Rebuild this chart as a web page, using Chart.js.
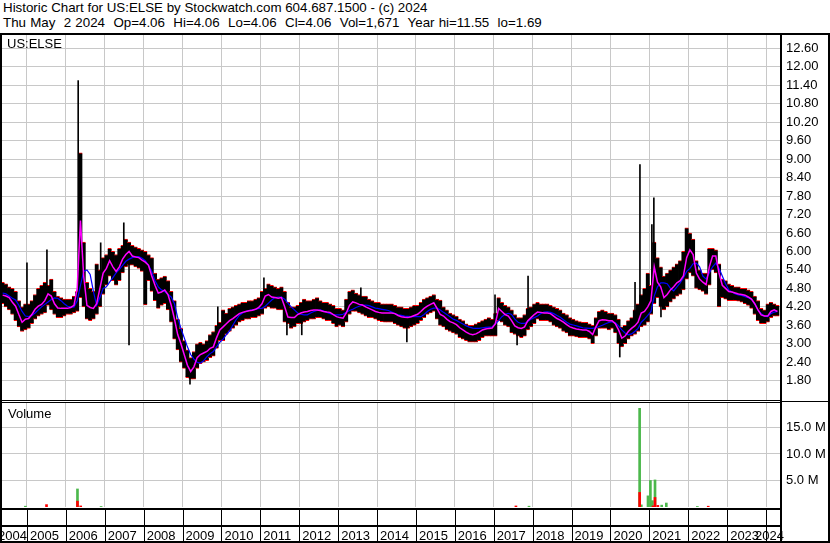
<!DOCTYPE html>
<html>
<head>
<meta charset="utf-8">
<title>US:ELSE historic chart</title>
<script src="https://cdn.jsdelivr.net/npm/chart.js@4.4.1/dist/chart.umd.min.js"></script>
<style>
  body { margin: 0; background: #fff; }
  #wrap { position: relative; width: 830px; height: 543px; overflow: hidden; font-family: "Liberation Sans", Arial, sans-serif; }
  .t { position: absolute; font-size: 13px; line-height: 13px; color: #000; white-space: pre; }
  .title { font-size: 13.33px; }
  .b { position: absolute; background: #000; }
  canvas { position: absolute; left: 0; }
</style>
</head>
<body>
<div id="wrap">
  <canvas id="priceChart" width="830" height="366" style="top:35px"></canvas>
  <canvas id="volumeChart" width="830" height="140" style="top:403px"></canvas>

  <div class="t title" style="left:3px;top:1px">Historic Chart for US:ELSE by Stockwatch.com 604.687.1500 - (c) 2024</div>
  <div class="t title" style="left:3px;top:16px;word-spacing:0.5px">Thu May  2 2024  Op=4.06  Hi=4.06  Lo=4.06  Cl=4.06  Vol=1,671  Year hi=11.55  lo=1.69</div>
  <div class="t" style="left:7px;top:37px">US:ELSE</div>
  <div class="t" style="left:8px;top:407px">Volume</div>

  <!-- frame lines -->
  <div class="b" style="left:0;top:33px;width:830px;height:2px"></div>
  <div class="b" style="left:0;top:33px;width:2px;height:510px"></div>
  <div class="b" style="left:780px;top:33px;width:2px;height:510px"></div>
  <div class="b" style="left:828px;top:33px;width:2px;height:510px"></div>
  <div class="b" style="left:0;top:400px;width:782px;height:1px"></div>
  <div class="b" style="left:0;top:402px;width:782px;height:1px"></div>
  <div class="b" style="left:782px;top:401px;width:48px;height:1px"></div>
  <div class="b" style="left:0;top:541px;width:830px;height:2px"></div>
</div>

<script>
// ---- data (monthly, May 2004 .. Apr 2024) ----
const startYear = 2004;
const startMonth = 5;
const years = [2004, 2005, 2006, 2007, 2008, 2009, 2010, 2011, 2012, 2013, 2014,
               2015, 2016, 2017, 2018, 2019, 2020, 2021, 2022, 2023, 2024];

const priceTicks = [1.80, 2.40, 3.00, 3.60, 4.20, 4.80, 5.40, 6.00, 6.60, 7.20,
                    7.80, 8.40, 9.00, 9.60, 10.20, 10.80, 11.40, 12.00, 12.60];
const volumeTicks = [5, 10, 15];

// monthly trading band, high side
const highs = [
  5.00, 4.95, 4.85, 4.80, 4.70, 4.40, 4.20, 4.30,                          // 2004
  4.30, 4.40, 4.60, 4.80, 4.90, 5.00, 4.90, 5.10, 4.70, 4.55, 4.50, 4.45,  // 2005
  4.45, 4.45, 4.55, 4.70, 9.20, 6.30, 5.00, 4.80, 4.70, 5.60, 5.40, 5.80,  // 2006
  5.90, 6.10, 6.00, 5.90, 6.10, 6.20, 6.40, 6.30, 6.20, 6.15, 6.10, 6.05,  // 2007
  6.00, 5.90, 5.80, 5.30, 5.10, 5.15, 5.20, 5.05, 4.70, 4.40, 3.80, 3.50,  // 2008
  3.10, 2.80, 2.55, 2.75, 3.00, 3.05, 3.00, 3.10, 3.30, 3.40, 3.60, 3.70,  // 2009
  4.10, 4.00, 4.15, 4.20, 4.25, 4.30, 4.35, 4.35, 4.40, 4.40, 4.45, 4.50,  // 2010
  4.70, 4.80, 4.95, 4.90, 4.85, 4.80, 4.85, 4.70, 4.35, 4.20, 4.20, 4.25,  // 2011
  4.35, 4.45, 4.40, 4.40, 4.45, 4.50, 4.40, 4.35, 4.35, 4.30, 4.25, 4.15,  // 2012
  4.15, 4.10, 4.45, 4.70, 4.75, 4.65, 4.60, 4.55, 4.55, 4.45, 4.40, 4.35,  // 2013
  4.35, 4.30, 4.30, 4.30, 4.30, 4.25, 4.20, 4.20, 4.15, 4.15, 4.20, 4.25,  // 2014
  4.25, 4.35, 4.45, 4.50, 4.55, 4.60, 4.45, 4.42, 4.20, 4.10, 4.00, 3.95,  // 2015
  3.90, 3.80, 3.75, 3.65, 3.60, 3.60, 3.65, 3.70, 3.75, 3.80, 3.85, 3.80,  // 2016
  4.00, 4.50, 4.35, 4.25, 4.20, 4.10, 3.95, 3.85, 3.85, 3.95, 4.15, 4.20,  // 2017
  4.30, 4.35, 4.30, 4.30, 4.30, 4.25, 4.20, 4.15, 4.10, 4.00, 3.95, 3.85,  // 2018
  3.80, 3.75, 3.72, 3.70, 3.70, 3.65, 3.60, 3.85, 4.05, 4.10, 4.05, 4.00,  // 2019
  4.00, 3.95, 3.80, 3.55, 3.60, 3.75, 3.85, 4.10, 4.30, 4.60, 4.80, 5.30,  // 2020
  4.90, 6.30, 5.80, 5.50, 5.20, 5.30, 5.40, 5.50, 5.60, 5.70, 6.00, 6.77,  // 2021
  6.60, 6.40, 5.70, 5.40, 5.30, 5.30, 6.10, 6.10, 6.05, 5.60, 5.10, 5.05,  // 2022
  4.95, 4.90, 4.85, 4.85, 4.80, 4.80, 4.75, 4.70, 4.55, 4.40, 4.15, 4.10,  // 2023
  4.30, 4.35, 4.30, 4.25                                                   // 2024
];

// monthly trading band, low side
const lows = [
  4.30, 4.20, 4.10, 3.95, 3.75, 3.55, 3.40, 3.45,
  3.50, 3.65, 3.80, 3.90, 3.95, 4.00, 4.25, 4.10, 3.95, 3.85, 3.85, 3.90,
  3.95, 3.95, 4.00, 4.05, 4.50, 4.20, 3.80, 3.75, 3.80, 3.95, 4.20, 4.60,
  4.90, 5.20, 5.05, 4.90, 5.05, 5.30, 5.50, 5.55, 5.55, 5.50, 5.45, 5.35,
  4.26, 5.05, 4.70, 4.40, 4.15, 4.25, 4.30, 4.10, 3.70, 3.15, 2.80, 2.40,
  2.20, 1.90, 1.85, 1.85, 2.20, 2.35, 2.40, 2.45, 2.55, 2.60, 2.85, 3.10,
  3.10, 3.30, 3.40, 3.50, 3.60, 3.70, 3.75, 3.80, 3.80, 3.85, 3.85, 3.90,
  3.95, 4.15, 4.20, 4.15, 4.15, 4.10, 4.10, 3.70, 3.65, 3.50, 3.55, 3.65,
  3.65, 3.70, 3.75, 3.80, 3.80, 3.85, 3.85, 3.80, 3.75, 3.75, 3.65, 3.55,
  3.60, 3.55, 3.70, 3.95, 4.05, 4.05, 4.00, 3.95, 3.90, 3.85, 3.85, 3.80,
  3.75, 3.72, 3.70, 3.70, 3.70, 3.65, 3.60, 3.55, 3.50, 3.50, 3.55, 3.60,
  3.65, 3.75, 3.85, 3.95, 4.00, 4.05, 3.80, 3.60, 3.55, 3.45, 3.40, 3.35,
  3.30, 3.20, 3.15, 3.10, 3.05, 3.05, 3.05, 3.10, 3.20, 3.25, 3.25, 3.25,
  3.25, 3.75, 3.70, 3.60, 3.55, 3.35, 3.30, 3.25, 3.20, 3.25, 3.45, 3.55,
  3.65, 3.80, 3.75, 3.75, 3.75, 3.70, 3.60, 3.55, 3.50, 3.40, 3.35, 3.25,
  3.25, 3.22, 3.20, 3.20, 3.20, 3.15, 3.00, 3.25, 3.50, 3.50, 3.50, 3.45,
  3.50, 3.35, 3.00, 2.90, 3.00, 3.15, 3.25, 3.30, 3.40, 3.55, 3.60, 3.70,
  3.95, 4.30, 4.50, 4.20, 4.10, 4.20, 4.35, 4.45, 4.55, 4.60, 4.75, 5.10,
  5.30, 5.20, 4.80, 4.75, 4.70, 4.60, 4.90, 5.40, 5.30, 4.20, 4.50, 4.45,
  4.40, 4.40, 4.40, 4.38, 4.35, 4.30, 4.25, 4.15, 3.95, 3.75, 3.65, 3.65,
  3.70, 3.85, 3.90, 3.90
];

// single-day extremes that stick out of the band
const spikeDates = ['2005-01-01', '2005-07-06', '2006-04-26', '2006-11-24', '2007-06-28', '2007-08-16',
                    '2009-03-10', '2009-11-28', '2011-02-04', '2011-09-07', '2012-01-25', '2013-08-01',
                    '2014-10-07', '2017-01-13', '2017-08-07', '2017-11-19', '2020-03-28', '2020-08-19',
                    '2020-10-04', '2021-01-25', '2021-02-13', '2021-04-19'];
const spikeLows  = [4.00, 4.30, 4.10, 5.00, 5.80, 2.96,
                    1.69, 3.40, 4.40, 3.29, 3.29, 4.30,
                    3.06, 3.70, 2.96, 3.90, 2.57, 3.70,
                    3.60, 4.20, 4.60, 3.87];
const spikeHighs = [5.63, 6.05, 11.55, 6.28, 6.93, 5.60,
                    2.30, 4.20, 5.14, 3.90, 3.90, 4.82,
                    3.90, 4.59, 3.60, 5.20, 3.40, 5.00,
                    8.82, 6.87, 7.74, 4.70];

// short moving average (magenta)
const maShort = [
  4.58, 4.55, 4.50, 4.35, 4.22, 3.95, 3.70, 3.80,
  3.82, 3.95, 4.12, 4.22, 4.28, 4.40, 4.62, 4.55, 4.30, 4.16, 4.15, 4.15,
  4.15, 4.18, 4.25, 4.80, 7.00, 5.20, 4.25, 4.18, 4.15, 4.30, 4.80, 5.30,
  5.45, 5.70, 5.50, 5.35, 5.50, 5.75, 5.90, 6.00, 5.85, 5.82, 5.80, 5.72,
  5.65, 5.55, 5.20, 4.90, 4.65, 4.68, 4.75, 4.60, 4.25, 3.80, 3.30, 3.00,
  2.65, 2.30, 2.10, 2.25, 2.55, 2.65, 2.70, 2.75, 2.85, 2.90, 3.20, 3.45,
  3.55, 3.65, 3.75, 3.82, 3.90, 3.98, 4.02, 4.05, 4.07, 4.09, 4.12, 4.18,
  4.30, 4.55, 4.60, 4.52, 4.50, 4.48, 4.50, 4.20, 3.87, 3.85, 3.85, 3.95,
  4.00, 4.03, 4.05, 4.08, 4.10, 4.10, 4.08, 4.05, 4.03, 4.02, 3.95, 3.88,
  3.85, 3.83, 4.00, 4.25, 4.36, 4.33, 4.28, 4.26, 4.20, 4.15, 4.10, 4.05,
  4.02, 4.00, 4.00, 4.00, 4.00, 3.98, 3.92, 3.88, 3.86, 3.85, 3.88, 3.92,
  3.96, 4.05, 4.15, 4.22, 4.28, 4.33, 4.15, 3.95, 3.90, 3.80, 3.72, 3.68,
  3.62, 3.52, 3.45, 3.38, 3.32, 3.29, 3.32, 3.38, 3.45, 3.48, 3.50, 3.51,
  3.65, 4.15, 4.05, 3.95, 3.90, 3.75, 3.58, 3.52, 3.50, 3.55, 3.75, 3.85,
  3.95, 4.03, 4.02, 4.00, 4.00, 3.98, 3.90, 3.82, 3.77, 3.70, 3.62, 3.55,
  3.51, 3.48, 3.46, 3.45, 3.45, 3.40, 3.30, 3.55, 3.75, 3.78, 3.77, 3.75,
  3.75, 3.65, 3.45, 3.18, 3.25, 3.40, 3.50, 3.58, 3.70, 4.00, 4.05, 4.20,
  4.40, 5.50, 5.00, 4.85, 4.50, 4.60, 4.75, 4.85, 4.98, 5.05, 5.20, 5.80,
  6.05, 5.90, 5.30, 5.10, 5.00, 4.92, 5.50, 5.85, 5.85, 5.30, 4.90, 4.80,
  4.70, 4.68, 4.65, 4.62, 4.60, 4.58, 4.52, 4.45, 4.30, 4.10, 3.94, 3.90,
  3.90, 4.05, 4.10, 4.05
];

// long moving average (blue)
const maLong = [
  4.65, 4.62, 4.55, 4.48, 4.42, 4.25, 4.05, 3.90,
  3.88, 3.92, 4.00, 4.10, 4.20, 4.28, 4.36, 4.44, 4.49, 4.48, 4.40, 4.30,
  4.22, 4.20, 4.19, 4.40, 4.90, 5.35, 5.40, 5.25, 4.70, 4.25, 4.50, 4.80,
  4.85, 5.00, 5.15, 5.30, 5.42, 5.55, 5.68, 5.75, 5.80, 5.83, 5.83, 5.78,
  5.70, 5.55, 5.35, 5.05, 4.85, 4.75, 4.70, 4.60, 4.52, 4.30, 3.85, 3.50,
  3.20, 2.90, 2.65, 2.50, 2.40, 2.37, 2.45, 2.58, 2.68, 2.75, 2.90, 3.05,
  3.15, 3.30, 3.42, 3.60, 3.78, 3.92, 4.00, 4.05, 4.08, 4.10, 4.12, 4.15,
  4.15, 4.22, 4.32, 4.42, 4.50, 4.52, 4.52, 4.45, 4.32, 4.20, 4.10, 4.00,
  3.96, 3.94, 3.94, 4.00, 4.05, 4.08, 4.10, 4.06, 4.02, 3.98, 3.95, 3.94,
  3.94, 3.96, 4.02, 4.08, 4.12, 4.18, 4.22, 4.25, 4.26, 4.24, 4.20, 4.16,
  4.14, 4.12, 4.10, 4.08, 4.03, 3.98, 3.94, 3.92, 3.90, 3.89, 3.88, 3.88,
  3.88, 3.88, 3.95, 4.05, 4.12, 4.16, 4.16, 4.10, 4.02, 3.95, 3.88, 3.80,
  3.76, 3.70, 3.64, 3.58, 3.54, 3.51, 3.50, 3.50, 3.52, 3.53, 3.54, 3.55,
  3.65, 3.75, 3.88, 3.96, 3.99, 3.95, 3.80, 3.70, 3.66, 3.66, 3.72, 3.80,
  3.85, 3.90, 3.98, 4.03, 4.04, 4.02, 3.98, 3.92, 3.86, 3.78, 3.70, 3.64,
  3.61, 3.58, 3.55, 3.52, 3.51, 3.50, 3.50, 3.52, 3.56, 3.60, 3.65, 3.69,
  3.72, 3.68, 3.58, 3.45, 3.35, 3.29, 3.32, 3.40, 3.50, 3.70, 3.80, 3.92,
  4.05, 4.55, 4.85, 4.98, 4.98, 4.95, 4.80, 4.72, 4.85, 4.98, 5.15, 5.35,
  5.45, 5.60, 5.62, 5.50, 5.20, 5.10, 5.30, 5.50, 5.62, 5.45, 5.20, 4.95,
  4.75, 4.68, 4.62, 4.59, 4.57, 4.53, 4.50, 4.45, 4.30, 4.10, 3.98, 3.90,
  3.88, 3.98, 4.03, 4.05
];

// daily volume spikes (millions of shares)
const volDates = ['2004-12-17', '2005-07-02', '2006-04-19', '2006-04-19', '2006-05-19', '2006-11-28',
                  '2017-07-27', '2017-11-28', '2020-10-01', '2020-10-01', '2020-10-17', '2020-12-19',
                  '2021-01-11', '2021-01-30', '2021-02-05', '2021-02-24', '2021-02-24', '2021-03-20',
                  '2021-04-26', '2021-06-08', '2022-03-26', '2022-07-06'];
const volValues = [0.15, 0.45, 3.4, 1.1, 0.2, 0.1,
                   0.2, 0.15, 18.6, 2.75, 0.4, 2.1,
                   5.0, 1.2, 0.2, 5.1, 1.8, 0.3,
                   0.35, 0.75, 0.1, 0.15];
const volUp = [1, 0, 1, 0, 0, 1,
               0, 1, 1, 0, 1, 1,
               1, 1, 0, 1, 0, 0,
               1, 1, 1, 0];

// ---- helpers ----
function monthPos(s) {
  const [y, m, d] = s.split('-').map(Number);
  return (y - startYear) * 12 + (m - startMonth) + (d - 1) / 31;
}
const yearStarts = years.slice(1).map(y => monthPos(y + '-01-01'));
const xMin = 0.3, xMax = 240.3;

Chart.defaults.font.family = '"Liberation Sans", Arial, sans-serif';
Chart.defaults.font.size = 13;
Chart.defaults.color = '#000';

const gridColor = '#c8c8c8';

function xAxis() {
  return {
    type: 'linear', min: xMin, max: xMax, offset: false,
    ticks: { display: false },
    grid: { color: gridColor, lineWidth: 1, drawTicks: false, offset: false },
    border: { display: false },
    afterBuildTicks: s => { s.ticks = yearStarts.map(v => ({ value: v })); },
    afterFit: s => { s.height = 0; s.paddingLeft = 0; s.paddingRight = 0; }
  };
}

function rightAxis(min, max, tickValues, fmt) {
  return {
    position: 'right', min: min, max: max,
    ticks: { padding: 6, callback: fmt, font: { size: 13 }, color: '#000' },
    grid: { color: gridColor, lineWidth: 1, drawTicks: false },
    border: { display: false },
    afterBuildTicks: s => { s.ticks = tickValues.map(v => ({ value: v })); },
    afterFit: s => { s.width = 50; s.paddingTop = 0; s.paddingBottom = 0; }
  };
}

const baseOptions = {
  responsive: false,
  animation: false,
  events: [],
  plugins: { legend: { display: false }, tooltip: { enabled: false } }
};

// ---- price chart ----
const priceBars = highs.map((h, i) => ({ x: i + 0.5, y: [lows[i], h] }));
const spikeBars = spikeDates.map((d, i) => ({ x: monthPos(d), y: [spikeLows[i], spikeHighs[i]] }));
const shortLine = maShort.map((v, i) => ({ x: i + 0.5, y: v }));
const longLine = maLong.map((v, i) => ({ x: i + 0.5, y: v }));

new Chart(document.getElementById('priceChart'), {
  type: 'bar',
  data: {
    datasets: [
      {
        type: 'line', data: shortLine, borderColor: '#ff00ff', borderWidth: 1.5,
        pointRadius: 0, tension: 0, order: 0
      },
      {
        type: 'line', data: longLine, borderColor: '#0000ff', borderWidth: 1.2,
        pointRadius: 0, tension: 0, order: 1
      },
      {
        type: 'bar', data: spikeBars, backgroundColor: '#000000',
        barThickness: 1, grouped: false, order: 2
      },
      {
        type: 'bar', data: priceBars, backgroundColor: '#000000',
        borderColor: '#ff0000', borderWidth: { top: 1, bottom: 1, left: 0, right: 0 },
        borderSkipped: false, barThickness: 4, grouped: false, order: 3
      }
    ]
  },
  options: Object.assign({}, baseOptions, {
    layout: { padding: { left: 2, top: 0, right: 0, bottom: 1 } },
    scales: {
      x: xAxis(),
      y: rightAxis(1.173, 13.032, priceTicks, v => Number(v).toFixed(2))
    }
  })
});

// ---- volume chart ----
const upBars = [], downBars = [];
volDates.forEach((d, i) => {
  const p = { x: monthPos(d), y: volValues[i] };
  (volUp[i] ? upBars : downBars).push(p);
});

const yearRow = {
  id: 'yearRow',
  afterDraw(chart) {
    const ctx = chart.ctx;
    const xs = chart.scales.x;
    const top = chart.chartArea.bottom;
    ctx.save();
    ctx.fillStyle = '#000';
    ctx.fillRect(0, top + 1, 782, 2);
    ctx.fillRect(0, top + 18, 782, 2);
    ctx.font = '13px "Liberation Sans", Arial, sans-serif';
    ctx.textBaseline = 'alphabetic';
    years.forEach(y => {
      const sx = xs.getPixelForValue(monthPos(y + '-01-01'));
      if (y > years[0]) ctx.fillRect(Math.round(sx), top + 1, 1, 36);
      const label = String(y);
      const w = ctx.measureText(label).width;
      const lx = Math.max(-2, Math.min(sx + 3, 784 - w));
      ctx.fillText(label, lx, top + 32.5);
    });
    ctx.restore();
  }
};

new Chart(document.getElementById('volumeChart'), {
  type: 'bar',
  data: {
    datasets: [
      { data: downBars, backgroundColor: '#ff0000', barThickness: 2, grouped: false },
      { data: upBars, backgroundColor: '#4cb84c', barThickness: 2, grouped: false }
    ]
  },
  options: Object.assign({}, baseOptions, {
    layout: { padding: { left: 2, top: 0, right: 0, bottom: 36 } },
    scales: {
      x: xAxis(),
      y: rightAxis(0, 19.6, volumeTicks, v => Number(v).toFixed(1) + ' M')
    }
  }),
  plugins: [yearRow]
});
</script>
</body>
</html>
